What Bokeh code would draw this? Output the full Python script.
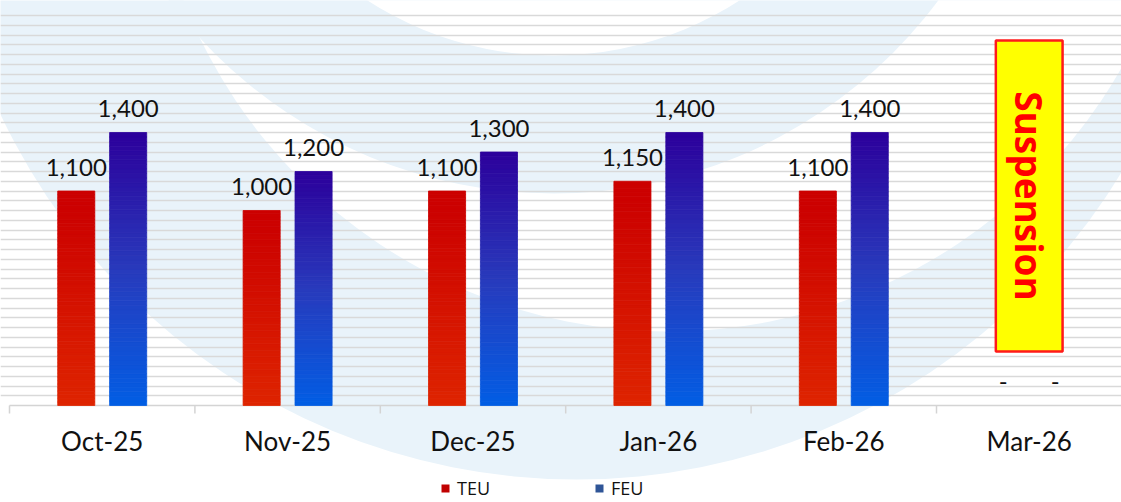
import math
from bokeh.plotting import figure
from bokeh.models import (Range1d, ColumnDataSource, Grid, FixedTicker, Legend, LegendItem)
from bokeh.core.properties import value
from bokeh.embed import file_html
from bokeh.resources import INLINE

# ---------------- data ----------------
months = ["Oct-25", "Nov-25", "Dec-25", "Jan-26", "Feb-26", "Mar-26"]
teu = [1100, 1000, 1100, 1150, 1100, 0]
feu = [1400, 1200, 1300, 1400, 1400, 0]
series_names = ["TEU", "FEU"]
legend_colors = ["#c00000", "#2f5597"]
suspended_month = "Mar-26"
suspension_text = "Suspension"
suspension_span = (277, 1872)          # value-axis extent of the note box
grid_ticks = list(range(50, 2001, 50))

# ---------------- layout constants ----------------
W, H = 1121, 502
CAT_PX = 185.4          # pixels per category
X_FIRST = 9             # x of first category boundary
Y_BASE = 405            # y of the zero line (from top)
PX_PER_UNIT = 0.195     # pixels per value unit

x_start = -X_FIRST / CAT_PX
x_end = x_start + W / CAT_PX
y_start = -(H - Y_BASE) / PX_PER_UNIT
y_end = Y_BASE / PX_PER_UNIT

p = figure(width=W, height=H, x_range=Range1d(x_start, x_end), y_range=Range1d(y_start, y_end),
           output_backend="svg", toolbar_location=None, x_axis_type=None, y_axis_type=None,
           min_border=0, min_border_left=0, min_border_right=0, min_border_top=0, min_border_bottom=0)
p.outline_line_color = None
p.background_fill_color = "white"
p.border_fill_color = "white"

# ---------------- faint watermark (pixel space) ----------------
p.extra_x_ranges = {"px": Range1d(0, W)}
p.extra_y_ranges = {"px": Range1d(H, 0)}
wm_blue = "#e9f3fa"
watermark = [(wm_blue, 576, -158, 637), ("white", 668, -190, 521),
             (wm_blue, 553, -287, 480), ("white", 553, -287, 342)]
for col, cx, cy, r in watermark:
    p.ellipse(x=[cx], y=[cy], width=2 * r, height=2 * r, fill_color=col, line_color=None,
              x_range_name="px", y_range_name="px", level="image")

# ---------------- grid ----------------
grid = Grid(dimension=1, ticker=FixedTicker(ticks=grid_ticks),
            grid_line_color="#d9d9d9", grid_line_width=1.5)
p.add_layout(grid)

# ---------------- x axis (drawn through the data scales) ----------------
n = len(months)
p.segment(x0=[0], x1=[n], y0=[0], y1=[0], line_color="#d4d4d4", line_width=1.5)
bounds = list(range(n + 1))
tick_len = 8 / PX_PER_UNIT
p.segment(x0=bounds, x1=bounds, y0=[0] * len(bounds), y1=[-tick_len] * len(bounds),
          line_color="#d4d4d4", line_width=1.5)
label_y = -(440 - Y_BASE) / PX_PER_UNIT
p.text(x=[i + 0.5 for i in range(n)], y=[label_y] * n, text=months,
       text_align="center", text_baseline="middle", text_font=value("Lato"),
       text_font_size="26px", text_color="#111111")

# ---------------- gradient bars ----------------
def lerp_stops(stops, t):
    for (t0, c0), (t1, c1) in zip(stops[:-1], stops[1:]):
        if t0 <= t <= t1:
            f = 0 if t1 == t0 else (t - t0) / (t1 - t0)
            c = [round(a + (b - a) * f) for a, b in zip(c0, c1)]
            return "#%02x%02x%02x" % tuple(c)
    return "#%02x%02x%02x" % tuple(stops[-1][1])

# t = 0 at bar top, 1 at bar bottom
red_stops = [(0.0, (204, 0, 0)), (0.1, (204, 2, 0)), (1.0, (222, 36, 0))]
blue_stops = [(0.0, (44, 0, 155)), (0.5, (40, 58, 188)), (0.95, (6, 90, 224)), (1.0, (0, 94, 228))]

BAR_W = 0.2
OFFSETS = [-0.14, 0.14]
NSLICE = 60
bars = dict(x=[], bottom=[], top=[], color=[])
for vals, off, stops in ((teu, OFFSETS[0], red_stops), (feu, OFFSETS[1], blue_stops)):
    for i, v in enumerate(vals):
        if v <= 0:
            continue
        for k in range(NSLICE):
            b = v * k / NSLICE
            t = v * (k + 1) / NSLICE
            frac_top = 1 - (k + 0.5) / NSLICE
            bars["x"].append(i + 0.5 + off)
            bars["bottom"].append(b)
            bars["top"].append(t)
            bars["color"].append(lerp_stops(stops, frac_top))
p.vbar(x="x", bottom="bottom", top="top", width=BAR_W, fill_color="color",
       line_color="color", line_width=0.8, source=ColumnDataSource(bars))

# ---------------- value labels ----------------
labs = dict(x=[], y=[], text=[])
for vals, off in ((teu, OFFSETS[0]), (feu, OFFSETS[1])):
    for i, v in enumerate(vals):
        labs["x"].append(i + 0.5 + off)
        labs["y"].append(v)
        labs["text"].append(f"{v:,}" if v else "-")
p.text(x="x", y="y", text="text", source=ColumnDataSource(labs), text_align="center",
       text_baseline="alphabetic", y_offset=-24, text_font=value("Lato"),
       text_font_size="24px", text_color="#111111")

# ---------------- suspension note ----------------
si = months.index(suspended_month)
half = 0.18
p.quad(left=[si + 0.5 - half], right=[si + 0.5 + half], bottom=[suspension_span[0]],
       top=[suspension_span[1]], fill_color="#ffff00", line_color="#ff1a1a", line_width=2.5)
p.text(x=[si + 0.5], y=[sum(suspension_span) / 2], text=[suspension_text], angle=-math.pi / 2,
       text_align="center", text_baseline="middle", text_font=value("Open Sans"),
       text_font_style="bold", text_font_size="37px", text_color="#ff0000")

# ---------------- legend ----------------
nan = float("nan")
leg_r = []
for c in legend_colors:
    leg_r.append(p.quad(left=[nan], right=[nan], top=[nan], bottom=[nan],
                        fill_color=c, line_color=None))
legend = Legend(items=[LegendItem(label=nm, renderers=[r], index=0) for nm, r in zip(series_names, leg_r)],
                orientation="horizontal", location=(440, 2), glyph_width=10, glyph_height=10,
                label_height=12, label_standoff=7, spacing=104, padding=0, margin=0,
                label_text_font="Open Sans", label_text_font_size="18px", label_text_color="#111111",
                border_line_color=None, background_fill_alpha=0)
p.add_layout(legend)

open("out.html", "w").write(file_html(p, INLINE))
